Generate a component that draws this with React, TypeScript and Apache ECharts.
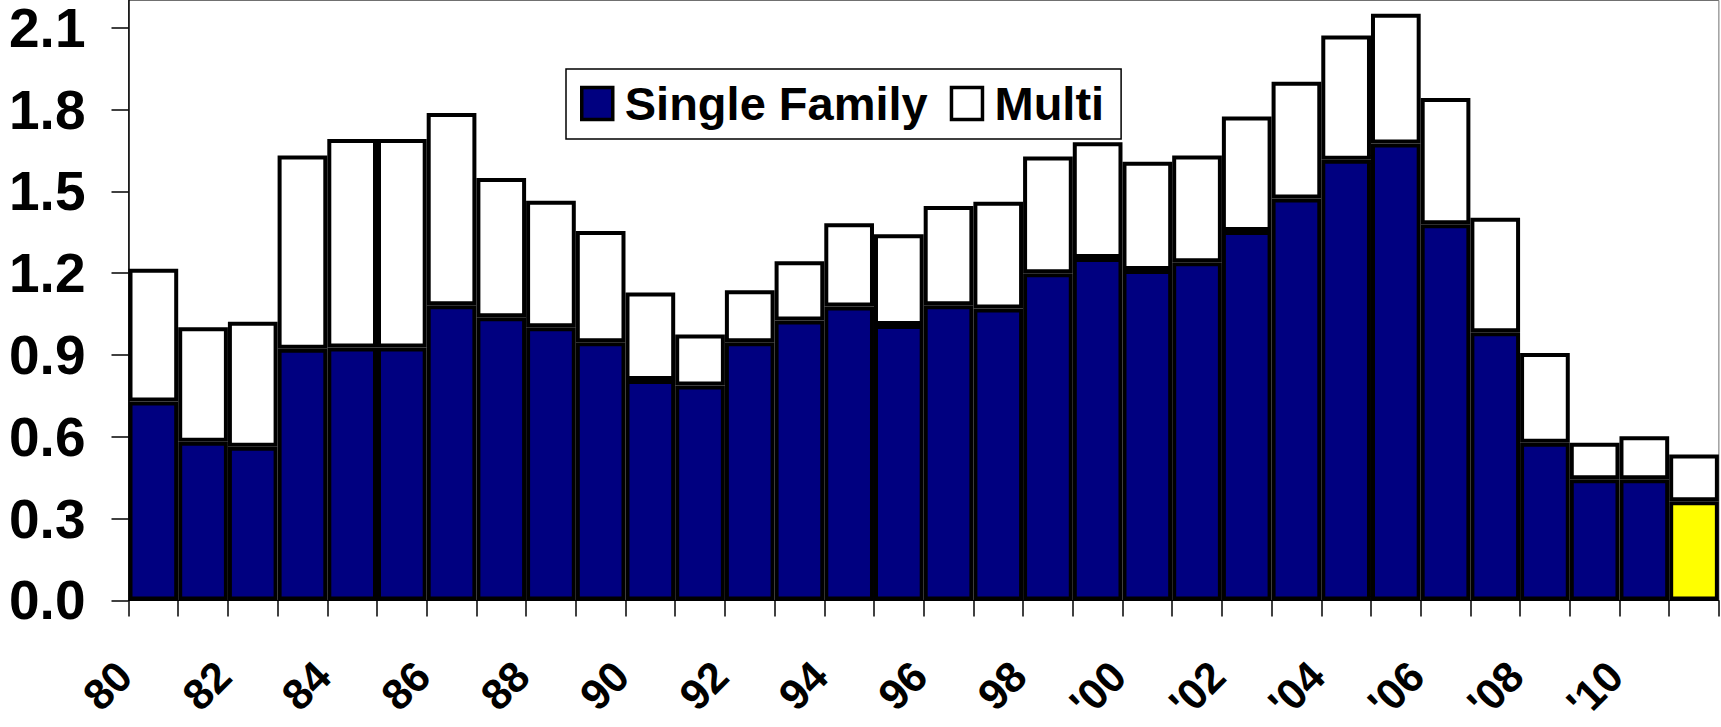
import React, { useEffect, useRef } from "react";
import * as echarts from "echarts";

const categories = [
  "1980","1981","1982","1983","1984","1985","1986","1987","1988","1989",
  "1990","1991","1992","1993","1994","1995","1996","1997","1998","1999",
  "2000","2001","2002","2003","2004","2005","2006","2007","2008","2009",
  "2010","2011",
];

const singleFamily = [
  0.729, 0.582, 0.563, 0.923, 0.927, 0.927, 1.082, 1.038, 1.002, 0.947,
  0.808, 0.788, 0.947, 1.026, 1.078, 1.010, 1.082, 1.070, 1.200, 1.256,
  1.212, 1.240, 1.355, 1.474, 1.616, 1.676, 1.379, 0.983, 0.578, 0.444,
  0.444, 0.364,
];

const multi = [
  0.487, 0.420, 0.459, 0.709, 0.765, 0.765, 0.705, 0.511, 0.464, 0.408,
  0.321, 0.187, 0.190, 0.218, 0.305, 0.333, 0.364, 0.392, 0.428, 0.424,
  0.397, 0.392, 0.420, 0.428, 0.456, 0.475, 0.463, 0.420, 0.329, 0.134,
  0.158, 0.171,
];

const xTickLabels = [
  "80", "82", "84", "86", "88", "90", "92", "94", "96", "98",
  "'00", "'02", "'04", "'06", "'08", "'10",
];

const yTicks = [0, 0.3, 0.6, 0.9, 1.2, 1.5, 1.8, 2.1];

const highlightIndex = 31;

export default function App() {
  const ref = useRef<HTMLDivElement>(null);

  useEffect(() => {
    if (!ref.current) return;
    const chart = echarts.init(ref.current, undefined, { renderer: "svg" });
    const font = "'Liberation Sans', Arial, sans-serif";

    const sfData = singleFamily.map((v, i) =>
      i === highlightIndex ? { value: v, itemStyle: { color: "#FFFF00" } } : v
    );

    chart.setOption({
      animation: false,
      backgroundColor: "#ffffff",
      grid: {
        left: 128.5,
        right: 1,
        top: 0.5,
        bottom: 116,
        show: true,
        borderColor: "#707070",
        borderWidth: 1,
        backgroundColor: "transparent",
      },
      legend: {
        left: 566,
        top: 69,
        orient: "horizontal",
        backgroundColor: "#ffffff",
        borderColor: "#000000",
        borderWidth: 1.5,
        borderRadius: 0,
        padding: [11, 17, 12, 14],
        itemWidth: 31,
        itemHeight: 32,
        itemGap: 22,
        icon: "rect",
        itemStyle: { borderColor: "#000000", borderWidth: 3.5 },
        textStyle: {
          fontFamily: font,
          fontWeight: "bold",
          fontSize: 47,
          color: "#000000",
          padding: [0, 0, 0, 7],
        },
        data: ["Single Family", "Multi"],
      },
      xAxis: [
        {
          type: "category",
          data: categories,
          boundaryGap: true,
          axisLine: { show: true, lineStyle: { color: "#000", width: 1 } },
          axisTick: { show: false },
          axisLabel: { show: false },
          splitLine: { show: false },
        },
        {
          type: "value",
          position: "bottom",
          min: 0,
          max: categories.length,
          interval: 1,
          axisLine: { show: false },
          axisTick: {
            show: true,
            length: 16,
            lineStyle: { color: "#000", width: 1.5 },
          },
          splitLine: { show: false },
          axisLabel: {
            show: true,
            rotate: 45,
            margin: 64,
            padding: [0, 6, 0, 0],
            fontFamily: font,
            fontWeight: "bold",
            fontSize: 43,
            color: "#000",
            formatter: (v: number) => {
              const k = Math.round(v);
              if (k % 2 !== 0) return "";
              const lbl = xTickLabels[k / 2];
              return lbl === undefined ? "" : lbl;
            },
          },
        },
      ],
      yAxis: {
        type: "value",
        min: 0,
        max: 2.2,
        interval: 0.3,
        axisLine: { show: true, lineStyle: { color: "#000", width: 1.5 } },
        axisTick: {
          show: true,
          length: 17,
          customValues: yTicks,
          lineStyle: { color: "#000", width: 1.5 },
        },
        splitLine: { show: false },
        axisLabel: {
          customValues: yTicks,
          margin: 43,
          fontFamily: font,
          fontWeight: "bold",
          fontSize: 55,
          lineHeight: 48,
          color: "#000",
          formatter: (v: number) => v.toFixed(1),
        },
      },
      series: [
        {
          name: "Single Family",
          type: "bar",
          stack: "total",
          xAxisIndex: 0,
          barCategoryGap: "0%",
          itemStyle: { color: "#000080", borderColor: "#000", borderWidth: 4 },
          data: sfData,
        },
        {
          name: "Multi",
          type: "bar",
          stack: "total",
          xAxisIndex: 0,
          barCategoryGap: "0%",
          itemStyle: { color: "#ffffff", borderColor: "#000", borderWidth: 4 },
          data: multi,
        },
      ],
    });

    return () => chart.dispose();
  }, []);

  return (
    <div
      ref={ref}
      style={{ position: "absolute", left: 0, top: 0, width: 1721, height: 727 }}
    />
  );
}
